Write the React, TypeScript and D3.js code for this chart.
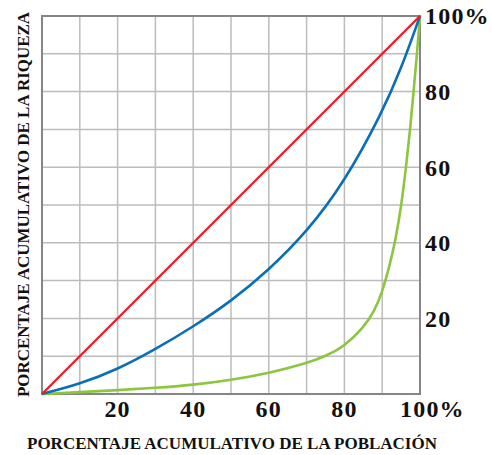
import React from "react";
import * as d3 from "d3";

const W = 492;
const H = 455;

const gridTicks = [0, 10, 20, 30, 40, 50, 60, 70, 80, 90, 100];
const xTickLabels = [20, 40, 60, 80, 100];
const yTickLabels = [20, 40, 60, 80, 100];

const equalityX = [0, 100];
const equalityY = [0, 100];

const blueX = [0, 10, 20, 30, 40, 50, 60, 70, 80, 90, 95, 100];
const blueY = [0, 2.6, 6.5, 11.8, 17.8, 24.5, 32.8, 42.8, 56, 74.5, 86, 100];

const greenX = [0, 10, 20, 30, 40, 50, 60, 70, 75, 80, 85, 88, 90, 91.7, 93.4, 95.1, 96.3, 97.4, 98.3, 99.2, 100];
const greenY = [0, 0.5, 1, 1.6, 2.4, 3.7, 5.5, 8.1, 10, 12.6, 17.5, 22, 27, 33, 40, 50, 60, 70, 80, 90, 100];

const xTitle = "PORCENTAJE ACUMULATIVO DE LA POBLACIÓN";
const yTitle = "PORCENTAJE ACUMULATIVO DE LA RIQUEZA";

export default function App() {
  const x = d3.scaleLinear().domain([0, 100]).range([42, 420]);
  const y = d3.scaleLinear().domain([0, 100]).range([394, 16]);

  const line = d3
    .line<[number, number]>()
    .x((d) => x(d[0]))
    .y((d) => y(d[1]))
    .curve(d3.curveBasis);

  const pts = (xs: number[], ys: number[]) => xs.map((v, i) => [v, ys[i]] as [number, number]);

  const font = "Liberation Serif, Times New Roman, serif";

  return (
    <svg
      width={W}
      height={H}
      style={{ position: "absolute", left: 0, top: 0, background: "#fff" }}
    >
      <rect x={0} y={0} width={W} height={H} fill="#fff" />
      {gridTicks.map((t) => (
        <line key={"gx" + t} x1={x(t)} x2={x(t)} y1={y(0)} y2={y(100)} stroke="#bcbcbc" strokeWidth={1.5} />
      ))}
      {gridTicks.map((t) => (
        <line key={"gy" + t} x1={x(0)} x2={x(100)} y1={y(t)} y2={y(t)} stroke="#bcbcbc" strokeWidth={1.5} />
      ))}
      <rect
        x={x(0)}
        y={y(100)}
        width={x(100) - x(0)}
        height={y(0) - y(100)}
        fill="none"
        stroke="#858585"
        strokeWidth={2}
      />
      <path d={line(pts(greenX, greenY)) || ""} fill="none" stroke="#8cc63f" strokeWidth={2.6} />
      <path d={line(pts(blueX, blueY)) || ""} fill="none" stroke="#0a6fb8" strokeWidth={2.6} />
      <path d={line(pts(equalityX, equalityY)) || ""} fill="none" stroke="#e8202a" strokeWidth={2.4} />

      {xTickLabels.map((t) => (
        <text
          key={"xl" + t}
          x={t === 100 ? x(t) - 20 : x(t)}
          y={417}
          textAnchor={t === 100 ? "start" : "middle"}
          fontFamily={font}
          fontWeight="bold"
          fontSize={24}
          letterSpacing={1.2}
          fill="#111"
        >
          {t === 100 ? "100%" : String(t)}
        </text>
      ))}
      {yTickLabels.map((t) => (
        <text
          key={"yl" + t}
          x={425}
          y={y(t)}
          dy="0.35em"
          textAnchor="start"
          fontFamily={font}
          fontWeight="bold"
          fontSize={24}
          letterSpacing={1.2}
          fill="#111"
        >
          {t === 100 ? "100%" : String(t)}
        </text>
      ))}
      <text
        x={27}
        y={449}
        fontFamily={font}
        fontWeight="bold"
        fontSize={17}
        textLength={410}
        lengthAdjust="spacingAndGlyphs"
        fill="#111"
      >
        {xTitle}
      </text>
      <text
        transform={`translate(29,397) rotate(-90)`}
        x={0}
        y={0}
        fontFamily={font}
        fontWeight="bold"
        fontSize={17}
        textLength={385}
        lengthAdjust="spacingAndGlyphs"
        fill="#111"
      >
        {yTitle}
      </text>
    </svg>
  );
}
